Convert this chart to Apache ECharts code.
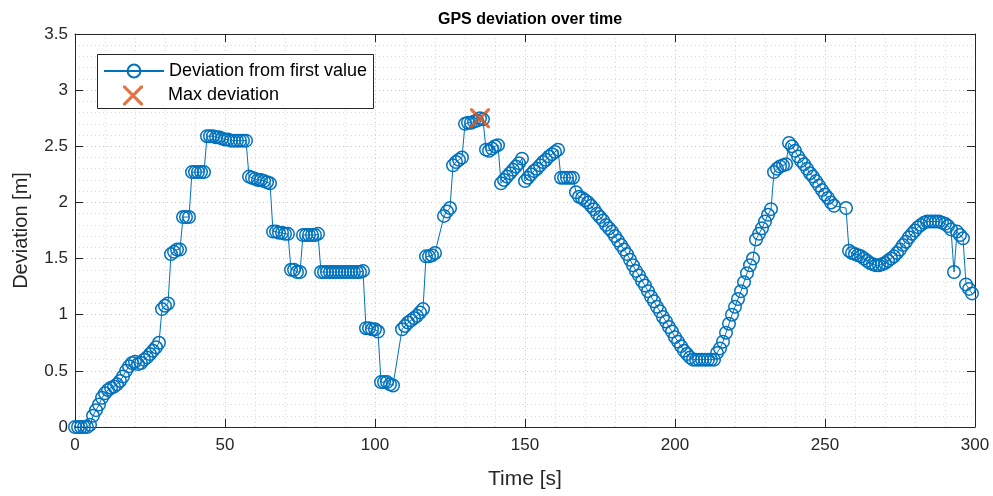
<!DOCTYPE html>
<html lang="en">
<head>
    <meta charset="UTF-8">
    <script src="https://cdnjs.cloudflare.com/ajax/libs/echarts/6.0.0/echarts.min.js"></script>
    <style>
        body { margin: 0; background: #fff; }
        #chart { width: 993px; height: 496px; }
    </style>
</head>
<body>
    <div id="chart"></div>
    <script>
        // sample times [s] (gaps where the logger dropped points)
        const times = [
            0, 1, 2, 3, 4, 5, 6, 7, 8, 9,
            10, 11, 12, 13, 14, 15, 16, 17, 18, 19,
            20, 21, 22, 23, 24, 25, 26, 27, 28, 29,
            30, 31, 32, 33, 34, 35, 36, 37, 38, 39,
            40, 41, 42, 43, 44, 45, 46, 47, 48, 49,
            50, 51, 52, 53, 54, 55, 56, 57, 58, 59,
            60, 61, 62, 63, 64, 65, 66, 67, 68, 69,
            70, 71, 72, 73, 74, 75, 76, 77, 78, 79,
            80, 81, 82, 83, 84, 85, 86, 87, 88, 89,
            90, 91, 92, 93, 94, 95, 96, 97, 98, 99,
            100, 101, 102, 103, 104, 105, 106,
            109, 110, 111, 112, 113, 114, 115, 116, 117, 118, 119, 120,
            123, 124, 125, 126, 127, 128, 129,
            130, 131, 132, 133, 134, 135, 136, 137, 138, 139,
            140, 141, 142, 143, 144, 145, 146, 147, 148, 149,
            150, 151, 152, 153, 154, 155, 156, 157, 158, 159,
            160, 161, 162, 163, 164, 165, 166, 167, 168, 169,
            170, 171, 172, 173, 174, 175, 176, 177, 178, 179,
            180, 181, 182, 183, 184, 185, 186, 187, 188, 189,
            190, 191, 192, 193, 194, 195, 196, 197, 198, 199,
            200, 201, 202, 203, 204, 205, 206, 207, 208, 209,
            210, 211, 212, 213, 214, 215, 216, 217, 218, 219,
            220, 221, 222, 223, 224, 225, 226, 227, 228, 229,
            230, 231, 232, 233, 234, 235, 236, 237, 238, 239,
            240, 241, 242, 243, 244, 245, 246, 247, 248, 249,
            250, 251, 252, 253,
            257, 258, 259,
            260, 261, 262, 263, 264, 265, 266, 267, 268, 269,
            270, 271, 272, 273, 274, 275, 276, 277, 278, 279,
            280, 281, 282, 283, 284, 285, 286, 287, 288, 289,
            290, 291, 292, 293, 294, 295, 296, 297, 298, 299
        ];

        // deviation from first value [m]
        const deviation = [
            0, 0, 0, 0, 0, 0.02, 0.10, 0.15, 0.20, 0.26,
            0.30, 0.33, 0.35, 0.36, 0.38, 0.41, 0.45, 0.50, 0.54, 0.57,
            0.58, 0.56, 0.57, 0.60, 0.62, 0.65, 0.68, 0.71, 0.75, 1.05,
            1.08, 1.10, 1.54, 1.56, 1.58, 1.58, 1.87, 1.87, 1.87, 2.27,
            2.27, 2.27, 2.27, 2.27, 2.59, 2.59, 2.59, 2.58, 2.58, 2.57,
            2.56, 2.56, 2.55, 2.55, 2.55, 2.55, 2.55, 2.55, 2.23, 2.22,
            2.21, 2.20, 2.20, 2.19, 2.18, 2.17, 1.74, 1.74, 1.73, 1.73,
            1.72, 1.72, 1.40, 1.40, 1.38, 1.38, 1.71, 1.71, 1.71, 1.71,
            1.71, 1.72, 1.38, 1.38, 1.38, 1.38, 1.38, 1.38, 1.38, 1.38,
            1.38, 1.38, 1.38, 1.38, 1.38, 1.38, 1.39, 0.88, 0.88, 0.87,
            0.87, 0.85, 0.40, 0.40, 0.40, 0.38, 0.37,
            0.87, 0.90, 0.93, 0.95, 0.97, 0.99, 1.02, 1.05, 1.52, 1.52, 1.53, 1.55,
            1.88, 1.92, 1.95, 2.33, 2.36, 2.38, 2.40,
            2.70, 2.71, 2.71, 2.72, 2.73, 2.75, 2.74, 2.47, 2.46, 2.48,
            2.50, 2.51, 2.17, 2.20, 2.23, 2.26, 2.29, 2.32, 2.35, 2.39,
            2.19, 2.22, 2.25, 2.28, 2.30, 2.33, 2.36, 2.38, 2.41, 2.43,
            2.45, 2.47, 2.22, 2.22, 2.22, 2.22, 2.22, 2.09, 2.05, 2.04,
            2.02, 2.00, 1.97, 1.94, 1.90, 1.87, 1.84, 1.80, 1.77, 1.74,
            1.70, 1.66, 1.62, 1.58, 1.54, 1.49, 1.44, 1.39, 1.35, 1.30,
            1.26, 1.21, 1.16, 1.12, 1.07, 1.03, 0.98, 0.94, 0.89, 0.85,
            0.80, 0.76, 0.72, 0.68, 0.65, 0.62, 0.60, 0.60, 0.60, 0.60,
            0.60, 0.60, 0.60, 0.60, 0.66, 0.70, 0.76, 0.84, 0.92, 1.00,
            1.07, 1.14, 1.21, 1.29, 1.37, 1.44, 1.50, 1.67, 1.72, 1.77,
            1.83, 1.89, 1.94, 2.27, 2.30, 2.32, 2.33, 2.34, 2.53, 2.50,
            2.46, 2.41, 2.37, 2.34, 2.30, 2.26, 2.23, 2.19, 2.15, 2.11,
            2.07, 2.04, 2.00, 1.97,
            1.95, 1.57, 1.55,
            1.54, 1.53, 1.52, 1.50, 1.48, 1.46, 1.45, 1.44, 1.44, 1.45,
            1.46, 1.48, 1.50, 1.52, 1.55, 1.58, 1.62, 1.65, 1.69, 1.72,
            1.75, 1.78, 1.80, 1.82, 1.83, 1.83, 1.83, 1.83, 1.83, 1.82,
            1.81, 1.79, 1.76, 1.38, 1.74, 1.71, 1.68, 1.27, 1.23, 1.19
        ];

        const maxPoint = [135, 2.75];

        const xTicks = [0, 50, 100, 150, 200, 250, 300];
        const yTicks = [0, 0.5, 1, 1.5, 2, 2.5, 3, 3.5];

        const FONT = '"Liberation Sans", Arial, Helvetica, sans-serif';
        const BLUE = '#0072BD';
        const ORANGE = '#D95319';
        const AXIS = '#262626';

        const crossPath = 'path://M0,0 L2.3,0 L10,7.7 L17.7,0 L20,0 L20,2.3 L12.3,10 L20,17.7 L20,20 L17.7,20 L10,12.3 L2.3,20 L0,20 L0,17.7 L7.7,10 L0,2.3 Z';
        // same cross centred in a 60x25 legend slot (corner moves only widen the box)
        const crossLegendPath = 'path://M0,0 L0,0 Z M60,25 L60,25 Z ' +
            'M20,2.5 L22.3,2.5 L30,10.2 L37.7,2.5 L40,2.5 L40,4.8 L32.3,12.5 L40,20.2 L40,22.5 L37.7,22.5 L30,14.8 L22.3,22.5 L20,22.5 L20,20.2 L27.7,12.5 L20,4.8 Z';

        const chart = echarts.init(document.getElementById('chart'));

        function baseX(extra) {
            return Object.assign({
                type: 'value',
                min: xTicks[0],
                max: xTicks[xTicks.length - 1],
                interval: xTicks[1] - xTicks[0],
                axisLine: { show: true, onZero: false, lineStyle: { color: AXIS, width: 1 } },
                axisTick: { show: true, inside: true, length: 8, lineStyle: { color: AXIS } },
                minorTick: { show: false, splitNumber: 5 },
                splitLine: { show: false },
                minorSplitLine: { show: false }
            }, extra);
        }
        function baseY(extra) {
            return Object.assign({
                type: 'value',
                min: yTicks[0],
                max: yTicks[yTicks.length - 1],
                interval: yTicks[1] - yTicks[0],
                axisLine: { show: true, onZero: false, lineStyle: { color: AXIS, width: 1 } },
                axisTick: { show: true, inside: true, length: 8, lineStyle: { color: AXIS } },
                minorTick: { show: false, splitNumber: 5 },
                splitLine: { show: false },
                minorSplitLine: { show: false }
            }, extra);
        }

        const legendText = { fontFamily: FONT, fontSize: 18, lineHeight: 18, color: '#000' };

        const option = {
            animation: false,
            backgroundColor: '#fff',
            title: {
                text: 'GPS deviation over time',
                left: 525,
                top: 7,
                textAlign: 'center',
                textStyle: { fontFamily: FONT, fontSize: 16, fontWeight: 'bold', color: '#000' }
            },
            grid: { left: 75, right: 18, top: 34, bottom: 69 },
            // legend frame
            graphic: [{
                type: 'rect',
                left: 97,
                top: 54,
                z: 3,
                shape: { width: 276, height: 54 },
                style: { fill: '#fff', stroke: AXIS, lineWidth: 1 }
            }],
            legend: [
                {
                    orient: 'vertical',
                    left: 103,
                    top: 62,
                    padding: 0,
                    itemWidth: 60,
                    itemHeight: 16,
                    textStyle: legendText,
                    data: ['Deviation from first value']
                },
                {
                    orient: 'vertical',
                    left: 103,
                    top: 83,
                    padding: 0,
                    itemWidth: 60,
                    itemHeight: 25,
                    textStyle: legendText,
                    data: [{ name: 'Max deviation', icon: crossLegendPath }]
                }
            ],
            xAxis: [
                baseX({
                    position: 'bottom',
                    name: 'Time [s]',
                    nameLocation: 'middle',
                    nameGap: 42,
                    nameTextStyle: { fontFamily: FONT, fontSize: 21, color: AXIS },
                    axisLabel: { margin: 10, fontFamily: FONT, fontSize: 17, color: AXIS },
                    splitLine: { show: true, lineStyle: { color: '#c8c8c8', type: [1, 3], width: 1 } },
                    minorSplitLine: { show: true, lineStyle: { color: '#d8d8d8', type: [1, 3], width: 1 } }
                }),
                baseX({ position: 'top', axisLabel: { show: false } })
            ],
            yAxis: [
                baseY({
                    position: 'left',
                    name: 'Deviation [m]',
                    nameLocation: 'middle',
                    nameGap: 44,
                    nameTextStyle: { fontFamily: FONT, fontSize: 20, color: AXIS },
                    axisLabel: { margin: 7, fontFamily: FONT, fontSize: 17, color: AXIS },
                    splitLine: { show: true, lineStyle: { color: '#c8c8c8', type: [1, 3], width: 1 } },
                    minorSplitLine: { show: true, lineStyle: { color: '#d8d8d8', type: [1, 3], width: 1 } }
                }),
                baseY({ position: 'right', axisLabel: { show: false } })
            ],
            series: [
                {
                    name: 'Deviation from first value',
                    type: 'line',
                    xAxisIndex: 0,
                    yAxisIndex: 0,
                    data: times.map((t, i) => [t, deviation[i]]),
                    symbol: 'circle',
                    symbolSize: 12.5,
                    showAllSymbol: true,
                    lineStyle: { color: BLUE, width: 1 },
                    itemStyle: { color: 'rgba(0,0,0,0)', borderColor: BLUE, borderWidth: 1.5 }
                },
                {
                    name: 'Max deviation',
                    type: 'scatter',
                    xAxisIndex: 0,
                    yAxisIndex: 0,
                    data: [maxPoint],
                    symbol: crossPath,
                    symbolSize: 20,
                    itemStyle: { color: ORANGE },
                    z: 5
                }
            ]
        };

        chart.setOption(option);
    </script>
</body>
</html>
